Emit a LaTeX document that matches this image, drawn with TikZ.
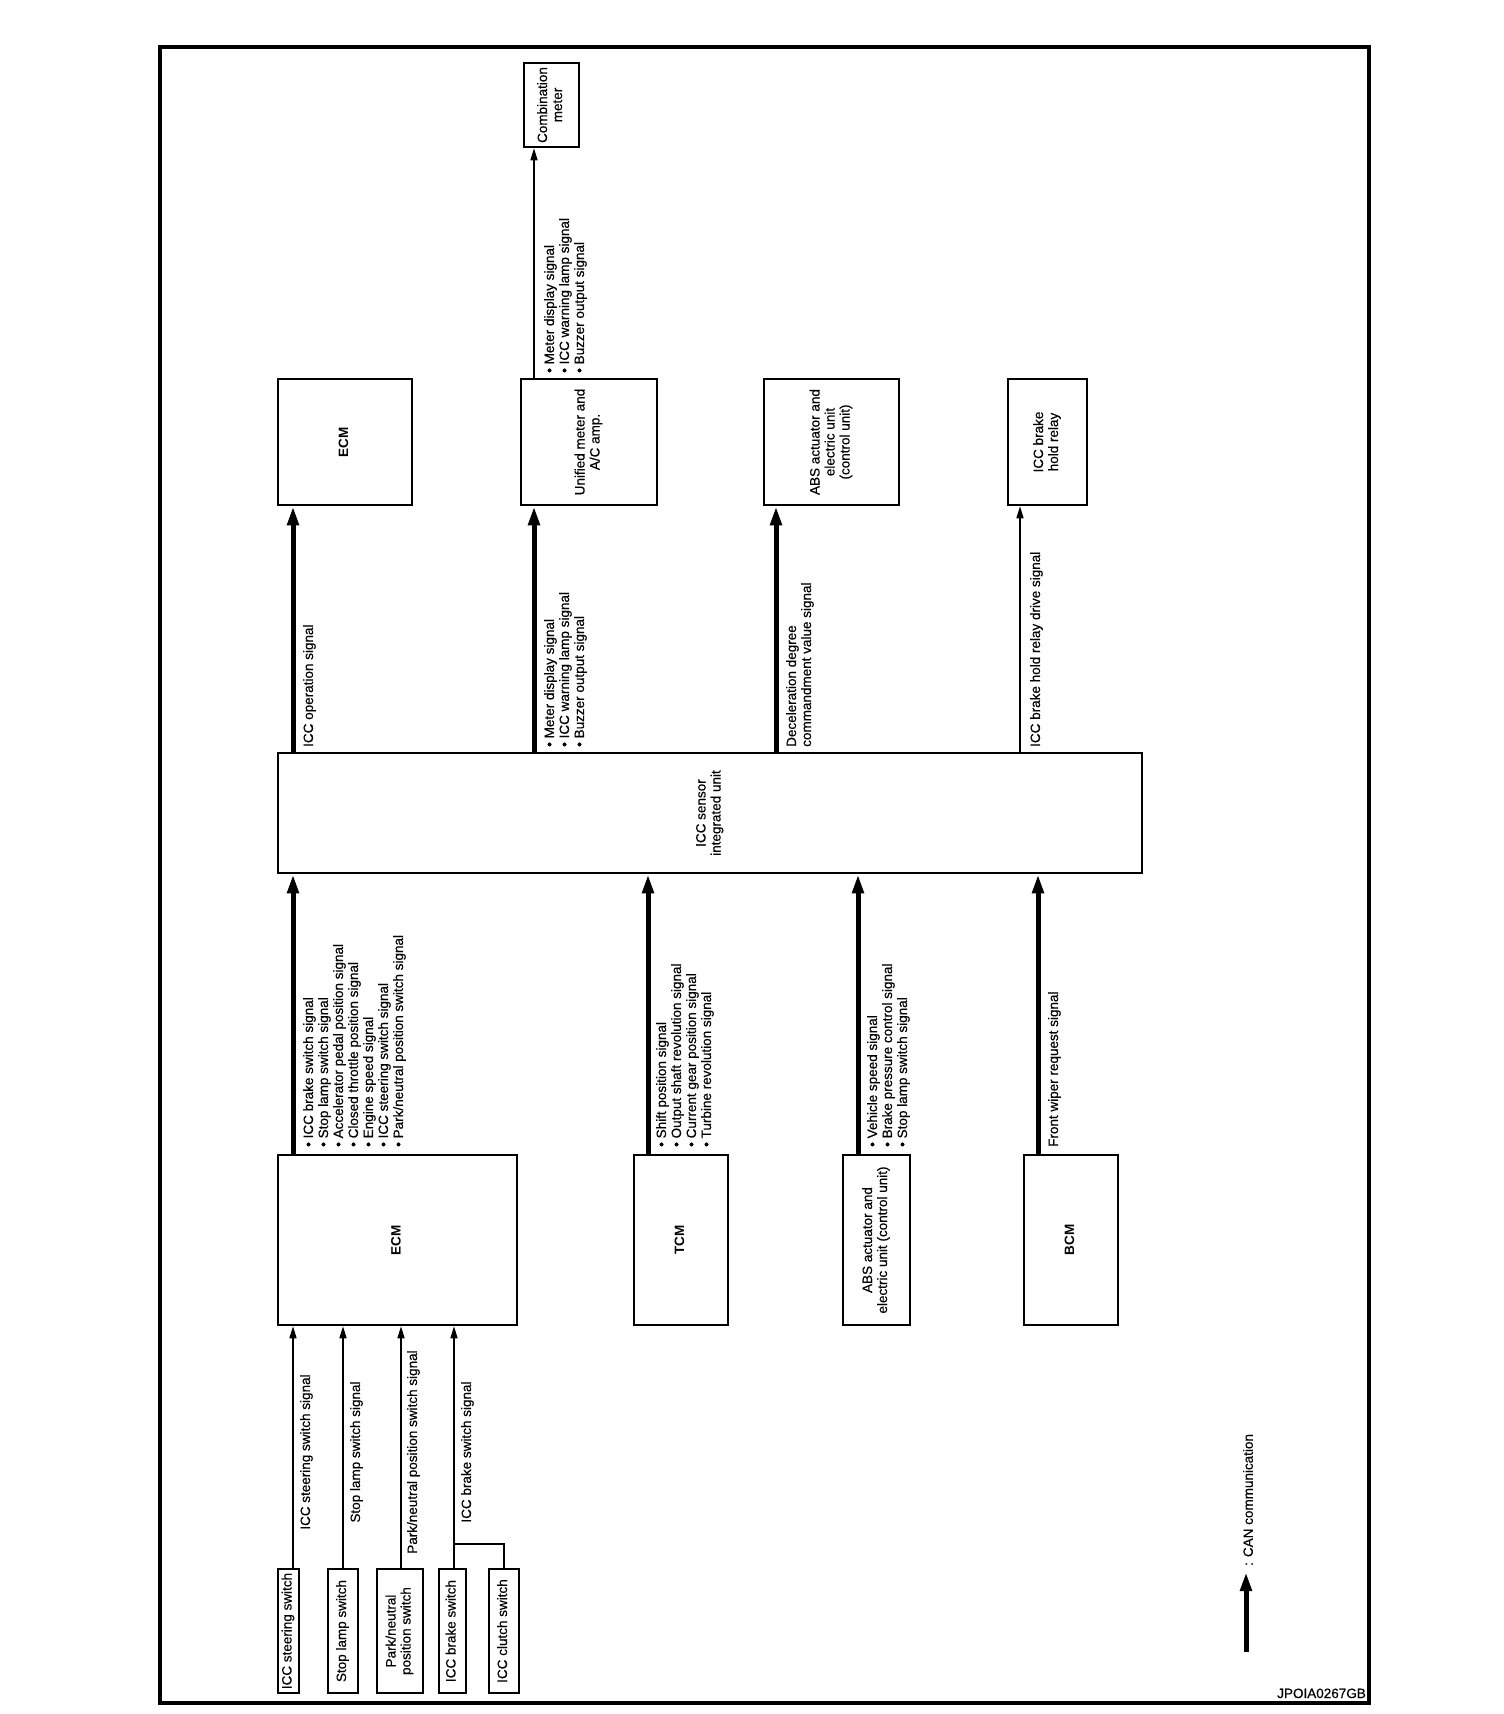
\documentclass[tikz,border=0pt]{standalone}
\usepackage{fontspec}
\setmainfont{Liberation Sans}[UprightFeatures={FakeBold=0.4}]
\usepackage{graphicx}
\usetikzlibrary{arrows.meta}
\newcommand{\sigfont}{\fontsize{13.5}{15}\selectfont}
\newcommand{\rtxt}[1]{\rotatebox{90}{\begin{tabular}{@{}c@{}}#1\end{tabular}}}
\begin{document}
\begin{tikzpicture}[x=1pt,y=-1pt,
  box/.style={draw, line width=2.5pt, inner sep=0pt, font=\sigfont, align=center},
  thickarrow/.style={line width=5pt, -{Triangle[length=19pt,width=11pt]}},
  thinarrow/.style={line width=1.5pt, -{Triangle[length=12pt,width=7pt]}},
  thinline/.style={line width=1.5pt},
  sig/.style={rotate=90, anchor=north west, inner sep=0pt, align=left, font=\sigfont},
  sigc/.style={rotate=90, anchor=north, inner sep=0pt, align=center, font=\sigfont},
  legtxt/.style={rotate=90, anchor=west, inner sep=0pt, font=\sigfont},
  codetxt/.style={anchor=base east, inner sep=0pt, font=\fontsize{13.5}{15}\selectfont},
]
\useasboundingbox (0,0) rectangle (1504,1714);
% frame
\draw[line width=4pt] (160,47) rectangle (1369,1703);

% central unit
\node[box, minimum width=864, minimum height=120] (icc) at (710,813)
  {\rtxt{ICC sensor\\integrated unit}};

% upper row
\node[box, minimum width=134, minimum height=126] (ecmT) at (345,442) {\rtxt{\textbf{ECM}}};
\node[box, minimum width=136, minimum height=126] (umeter) at (589,442) {\rtxt{Unified meter and\\A/C amp.}};
\node[box, minimum width=135, minimum height=126] (absT) at (831.5,442) {\rtxt{ABS actuator and\\electric unit\\(control unit)}};
\node[box, minimum width=79, minimum height=126] (relay) at (1047.5,442) {\rtxt{ICC brake\\hold relay}};
\node[box, minimum width=55, minimum height=84] (cmeter) at (551.5,105) {\rtxt{Combination\\meter}};

% lower row
\node[box, minimum width=239, minimum height=170] (ecmB) at (397.5,1240) {\rtxt{\textbf{ECM}}};
\node[box, minimum width=94, minimum height=170] (tcm) at (681,1240) {\rtxt{\textbf{TCM}}};
\node[box, minimum width=67, minimum height=170] (absB) at (876.5,1240) {\rtxt{ABS actuator and\\electric unit (control unit)}};
\node[box, minimum width=94, minimum height=170] (bcm) at (1071,1240) {\rtxt{\textbf{BCM}}};

% switches
\node[box, minimum width=21, minimum height=124] (swSteer) at (288.5,1631) {\rtxt{ICC steering switch}};
\node[box, minimum width=30, minimum height=124] (swStop) at (343,1631) {\rtxt{Stop lamp switch}};
\node[box, minimum width=46, minimum height=124] (swPark) at (400,1631) {\rtxt{Park/neutral\\position switch}};
\node[box, minimum width=27, minimum height=124] (swBrake) at (452.5,1631) {\rtxt{ICC brake switch}};
\node[box, minimum width=30, minimum height=124] (swClutch) at (504,1631) {\rtxt{ICC clutch switch}};

% x positions of connectors
\coordinate (xE) at (293,0);
\coordinate (xU) at (534,0);
\coordinate (xA) at (776,0);
\coordinate (xR) at (1020,0);
\coordinate (xT) at (648,0);
\coordinate (xAB) at (858,0);
\coordinate (xB) at (1038,0);
\coordinate (xS1) at (293,0);
\coordinate (xS2) at (343,0);
\coordinate (xS3) at (401,0);
\coordinate (xS4) at (454,0);
\coordinate (xS5) at (504,0);
\coordinate (join) at (454,1544);

% upper connectors
\draw[thickarrow] (icc.north -| xE) -- (ecmT.south -| xE);
\draw[thickarrow] (icc.north -| xU) -- (umeter.south -| xU);
\draw[thickarrow] (icc.north -| xA) -- (absT.south -| xA);
\draw[thinarrow] (icc.north -| xR) -- (relay.south -| xR);
\draw[thinarrow] (umeter.north -| xU) -- (cmeter.south -| xU);

% lower connectors
\draw[thickarrow] (ecmB.north -| xE) -- (icc.south -| xE);
\draw[thickarrow] (tcm.north -| xT) -- (icc.south -| xT);
\draw[thickarrow] (absB.north -| xAB) -- (icc.south -| xAB);
\draw[thickarrow] (bcm.north -| xB) -- (icc.south -| xB);

% switch connectors
\draw[thinarrow] (swSteer.north -| xS1) -- (ecmB.south -| xS1);
\draw[thinarrow] (swStop.north -| xS2) -- (ecmB.south -| xS2);
\draw[thinarrow] (swPark.north -| xS3) -- (ecmB.south -| xS3);
\draw[thinarrow] (swBrake.north -| xS4) -- (ecmB.south -| xS4);
\draw[thinline] (swClutch.north -| xS5) |- (join);

% upper labels
\node[sig] (lEcmT) at (303,747) {ICC operation signal};
\node[sig] (lUm) at (544,747) {\textbullet\ Meter display signal\\\textbullet\ ICC warning lamp signal\\\textbullet\ Buzzer output signal};
\node[sig] (lAbsT) at (786,747) {Deceleration degree\\commandment value signal};
\node[sig] (lRelay) at (1030,747) {ICC brake hold relay drive signal};
\node[sig] (lCm) at (544,373) {\textbullet\ Meter display signal\\\textbullet\ ICC warning lamp signal\\\textbullet\ Buzzer output signal};

% lower labels
\node[sig] (lEcmB) at (303,1147) {\textbullet\ ICC brake switch signal\\\textbullet\ Stop lamp switch signal\\\textbullet\ Accelerator pedal position signal\\\textbullet\ Closed throttle position signal\\\textbullet\ Engine speed signal\\\textbullet\ ICC steering switch signal\\\textbullet\ Park/neutral position switch signal};
\node[sig] (lTcm) at (656,1147) {\textbullet\ Shift position signal\\\textbullet\ Output shaft revolution signal\\\textbullet\ Current gear position signal\\\textbullet\ Turbine revolution signal};
\node[sig] (lAbsB) at (867,1147) {\textbullet\ Vehicle speed signal\\\textbullet\ Brake pressure control signal\\\textbullet\ Stop lamp switch signal};
\node[sig] (lBcm) at (1048,1147) {Front wiper request signal};

% switch labels
\node[sigc] (lS1) at (300,1452) {ICC steering switch signal};
\node[sigc] (lS2) at (350,1452) {Stop lamp switch signal};
\node[sigc] (lS3) at (407,1452) {Park/neutral position switch signal};
\node[sigc] (lS4) at (461,1452) {ICC brake switch signal};

% legend
\coordinate (legS) at (1246,1652);
\coordinate (legE) at (1246,1572);
\draw[thickarrow] (legS) -- (legE);
\node[legtxt] (legT) at (1248,1566) {: CAN communication};

\node[codetxt] (code) at (1366,1698) {JPOIA0267GB};
\end{tikzpicture}
\end{document}
